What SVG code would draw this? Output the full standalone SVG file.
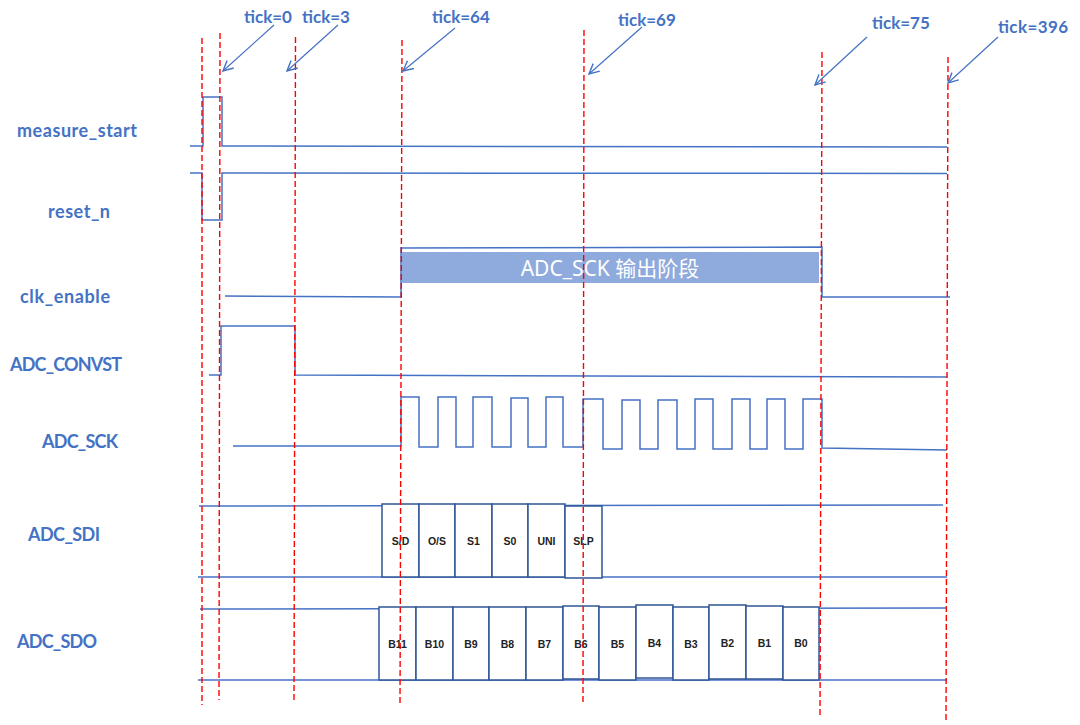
<svg xmlns="http://www.w3.org/2000/svg" width="1080" height="725" viewBox="0 0 1080 725">
<defs>
<marker id="ah" viewBox="0 0 12 12" refX="11" refY="6" markerWidth="12" markerHeight="12" markerUnits="userSpaceOnUse" orient="auto">
<path d="M1,1 L11,6 L1,11" fill="none" stroke="#4472C4" stroke-width="1.4"/>
</marker>
<style>
.lbl{font-family:Lato,"Liberation Sans",sans-serif;font-weight:bold;font-size:18px;fill:#4472C4}
.tick{font-family:Lato,"Liberation Sans",sans-serif;font-weight:bold;font-size:17px;fill:#4472C4}
.w{fill:none;stroke:#4472C4;stroke-width:1.5}
.red{stroke:#FF0000;stroke-width:1.4;stroke-dasharray:6 3;fill:none}
.box{fill:#FFFFFF;stroke:#2F5597;stroke-width:1.5}
.bt{font-family:"Liberation Sans",Arial,sans-serif;font-weight:bold;font-size:10.5px;fill:#222;text-anchor:middle}
.arr{stroke:#4472C4;stroke-width:1.2;fill:none}
</style>
</defs>
<rect width="1080" height="725" fill="#FFFFFF"/>

<g id="ticks">
<text class="tick" x="244" y="23">tick=0</text>
<text class="tick" x="302" y="23">tick=3</text>
<text class="tick" x="432" y="23">tick=64</text>
<text class="tick" x="618" y="26">tick=69</text>
<text class="tick" x="872" y="29">tick=75</text>
<text class="tick" x="998" y="33" textLength="70">tick=396</text>
</g>

<g id="labels">
<text class="lbl" x="17" y="137" textLength="120">measure_start</text>
<text class="lbl" x="48" y="218" textLength="62">reset_n</text>
<text class="lbl" x="20" y="303" textLength="90">clk_enable</text>
<text class="lbl" x="10" y="371" textLength="112">ADC_CONVST</text>
<text class="lbl" x="42" y="448" textLength="76">ADC_SCK</text>
<text class="lbl" x="28" y="541" textLength="72">ADC_SDI</text>
<text class="lbl" x="17" y="648" textLength="80">ADC_SDO</text>
</g>

<g id="measure_start">
<polyline class="w" points="190,146 203,146 203,97 222,97 222,146 947,147"/>
</g>
<g id="reset_n">
<polyline class="w" points="190,173 202,173 202,220 222,220 222,173 947,173.5"/>
</g>
<g id="clk_enable">
<polyline class="w" points="225,296 401,297 401,248 822,247 822,297 950,297"/>
<rect x="402" y="252" width="417" height="31" fill="#8FAADC"/>
<text x="610" y="276" text-anchor="middle" font-family="'Noto Sans','Noto Sans CJK SC',sans-serif" font-size="21" fill="#FFFFFF">ADC_SCK 输出阶段</text>
</g>
<g id="adc_convst">
<polyline class="w" points="209,375 221,375 221,326 295,326 295,375 947,377"/>
</g>
<g id="adc_sck">
<polyline class="w" points="233,446 401,446 401,397 419,397 419,447 438,447 438,397 456,397 456,447 473,447 473,397 492,397 492,447 511,447 511,398 528,398 528,447 546,447 546,397 563,397 563,447 583,447 583,399 603,399 603,449 622,449 622,400 640,400 640,449 658,449 658,400 677,400 677,449 695,449 695,399 713,399 713,449 732,449 732,399 750,399 750,449 767,449 767,399 785,399 785,449 803,449 803,399 822,399 822,448 947,450"/>
</g>
<g id="adc_sdi">
<line class="w" x1="199" y1="506" x2="943" y2="505"/>
<line class="w" x1="198" y1="577" x2="947" y2="577"/>
<rect class="box" x="382" y="504" width="37" height="73"/>
<rect class="box" x="419" y="504" width="36" height="73"/>
<rect class="box" x="455" y="504" width="37" height="73"/>
<rect class="box" x="492" y="504" width="36" height="73"/>
<rect class="box" x="528" y="504" width="37" height="73"/>
<rect class="box" x="565" y="506" width="37" height="72"/>
<text class="bt" x="400.5" y="545">S/D</text>
<text class="bt" x="437" y="545">O/S</text>
<text class="bt" x="473.5" y="545">S1</text>
<text class="bt" x="510" y="545">S0</text>
<text class="bt" x="546.5" y="545">UNI</text>
<text class="bt" x="583.5" y="545">SLP</text>
</g>
<g id="adc_sdo">
<line class="w" x1="200" y1="609" x2="947" y2="608"/>
<line class="w" x1="198" y1="680" x2="947" y2="680"/>
<rect class="box" x="379" y="607" width="37" height="73"/>
<rect class="box" x="416" y="607" width="37" height="73"/>
<rect class="box" x="453" y="607" width="36" height="73"/>
<rect class="box" x="489" y="607" width="37" height="73"/>
<rect class="box" x="526" y="607" width="37" height="73"/>
<rect class="box" x="563" y="606" width="36" height="73"/>
<rect class="box" x="599" y="607" width="37" height="73"/>
<rect class="box" x="636" y="605" width="37" height="73"/>
<rect class="box" x="673" y="607" width="36" height="73"/>
<rect class="box" x="709" y="605" width="37" height="74"/>
<rect class="box" x="746" y="606" width="37" height="73"/>
<rect class="box" x="783" y="607" width="36" height="73"/>
<text class="bt" x="397.5" y="648">B11</text>
<text class="bt" x="434.5" y="648">B10</text>
<text class="bt" x="471" y="648">B9</text>
<text class="bt" x="507.5" y="648">B8</text>
<text class="bt" x="544.5" y="648">B7</text>
<text class="bt" x="581" y="648">B6</text>
<text class="bt" x="617.5" y="648">B5</text>
<text class="bt" x="654.5" y="647">B4</text>
<text class="bt" x="691" y="648">B3</text>
<text class="bt" x="727.5" y="647">B2</text>
<text class="bt" x="764.5" y="647">B1</text>
<text class="bt" x="801" y="647">B0</text>
</g>

<g id="markers">
<line class="red" x1="202" y1="38" x2="202" y2="705"/>
<line class="red" x1="220" y1="33" x2="219" y2="700"/>
<line class="red" x1="295.5" y1="37" x2="294" y2="702"/>
<line class="red" x1="402" y1="40" x2="400" y2="705"/>
<line class="red" x1="584" y1="30" x2="583" y2="705"/>
<line class="red" x1="822" y1="52" x2="820" y2="718"/>
<line class="red" x1="948" y1="57" x2="946" y2="722"/>
</g>

<g id="connectors">
<line class="arr" x1="274" y1="25" x2="223" y2="71" marker-end="url(#ah)"/>
<line class="arr" x1="338" y1="25" x2="287" y2="71" marker-end="url(#ah)"/>
<line class="arr" x1="455" y1="28" x2="403" y2="71" marker-end="url(#ah)"/>
<line class="arr" x1="642" y1="27" x2="589" y2="74" marker-end="url(#ah)"/>
<line class="arr" x1="867" y1="37" x2="815" y2="85" marker-end="url(#ah)"/>
<line class="arr" x1="998" y1="37" x2="948" y2="83" marker-end="url(#ah)"/>
</g>
</svg>
